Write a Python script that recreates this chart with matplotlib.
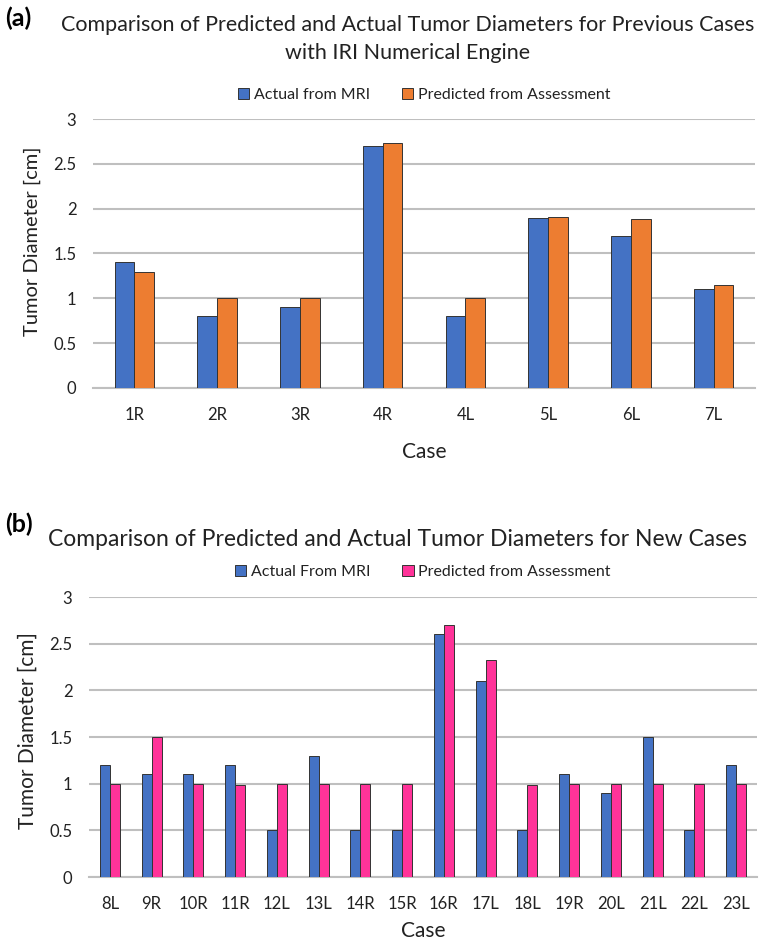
import matplotlib.pyplot as plt
import numpy as np

plt.rcParams['font.family'] = ['Lato', 'DejaVu Sans']

cases_a = ['1R', '2R', '3R', '4R', '4L', '5L', '6L', '7L']
actual_a = [1.4, 0.8, 0.9, 2.7, 0.8, 1.9, 1.7, 1.1]
pred_a = [1.29, 1.0, 1.0, 2.73, 1.0, 1.91, 1.89, 1.15]

cases_b = ['8L', '9R', '10R', '11R', '12L', '13L', '14R', '15R',
           '16R', '17L', '18L', '19R', '20L', '21L', '22L', '23L']
actual_b = [1.2, 1.1, 1.1, 1.2, 0.5, 1.3, 0.5, 0.5,
            2.6, 2.1, 0.5, 1.1, 0.9, 1.5, 0.5, 1.2]
pred_b = [1.0, 1.5, 1.0, 0.99, 1.0, 1.0, 1.0, 1.0,
          2.7, 2.33, 0.99, 1.0, 1.0, 1.0, 1.0, 1.0]

yticks = [0, 0.5, 1, 1.5, 2, 2.5, 3]
ytick_labels = ['0', '0.5', '1', '1.5', '2', '2.5', '3']

BLUE = '#4472C4'
ORANGE = '#ED7D31'
PINK = '#FF3399'
GRID = '#BFBFBF'
TXT = '#222222'

W, H = 767, 947
fig = plt.figure(figsize=(W / 100, H / 100), dpi=100)


def box(x0, y0, x1, y1):
    return [x0 / W, 1 - y1 / H, (x1 - x0) / W, (y1 - y0) / H]


def panel(ax, cases, actual, pred, c2, lab1, lab2, ylab_size, xlab_pad, ylab_xy):
    x = np.arange(len(cases))
    w = 0.24
    b1 = ax.bar(x - w / 2, actual, w, color=BLUE, edgecolor='#333333',
                linewidth=0.7, label=lab1, zorder=3)
    b2 = ax.bar(x + w / 2, pred, w, color=c2, edgecolor='#333333',
                linewidth=0.7, label=lab2, zorder=3)
    ax.set_ylim(0, 3)
    ax.set_xlim(-0.5, len(cases) - 0.5)
    ax.set_yticks(yticks)
    ax.set_yticklabels(ytick_labels)
    ax.set_xticks(x)
    ax.set_xticklabels(cases)
    ax.yaxis.grid(True, color=GRID, linewidth=1.5, zorder=0)
    ax.set_axisbelow(True)
    for s in ['top', 'right', 'left']:
        ax.spines[s].set_visible(False)
    ax.spines['bottom'].set_color(GRID)
    ax.spines['bottom'].set_linewidth(1.5)
    ax.tick_params(axis='y', length=0, labelsize=12, colors=TXT, pad=12)
    ax.tick_params(axis='x', length=0, labelsize=12, colors=TXT, pad=14)
    ax.set_ylabel('Tumor Diameter [cm]', fontsize=ylab_size, color=TXT)
    ax.yaxis.label.set_va('center')
    ax.yaxis.set_label_coords(*ylab_xy)
    ax.set_xlabel('Case', fontsize=15, color=TXT, labelpad=xlab_pad)
    return b1, b2


# panel (a)
ax1 = fig.add_axes(box(93, 119, 755, 388))
h = panel(ax1, cases_a, actual_a, pred_a, ORANGE,
          'Actual from MRI', 'Predicted from Assessment', 14.5, 13,
          ((32 - 93) / (755 - 93), (388 - 241) / (388 - 119)))
ax1.legend(h, ['Actual from MRI', 'Predicted from Assessment'],
           loc='center', bbox_to_anchor=(0.5, (388 - 95) / (388 - 119)),
           ncol=2, frameon=False, fontsize=11.5, handlelength=0.7,
           handleheight=0.7, columnspacing=2.0, handletextpad=0.3,
           labelcolor=TXT)
fig.text(408 / W, 1 - 39 / H,
         'Comparison of Predicted and Actual Tumor Diameters for Previous Cases\nwith IRI Numerical Engine',
         ha='center', va='center', fontsize=15.5, linespacing=1.45, color=TXT)
fig.text(5 / W, 1 - 18 / H, '(a)', fontsize=18, fontweight='bold', va='center')

# panel (b)
ax2 = fig.add_axes(box(89, 597, 757, 877))
h = panel(ax2, cases_b, actual_b, pred_b, PINK,
          'Actual From MRI', 'Predicted from Assessment', 15, 6,
          ((28 - 89) / (757 - 89), (877 - 731) / (877 - 597)))
ax2.legend(h, ['Actual From MRI', 'Predicted from Assessment'],
           loc='center', bbox_to_anchor=(0.5, (877 - 572) / (877 - 597)),
           ncol=2, frameon=False, fontsize=11.5, handlelength=0.7,
           handleheight=0.7, columnspacing=2.0, handletextpad=0.3,
           labelcolor=TXT)
fig.text(398 / W, 1 - 540 / H,
         'Comparison of Predicted and Actual Tumor Diameters for New Cases',
         ha='center', va='center', fontsize=16.5, color=TXT)
fig.text(5 / W, 1 - 524 / H, '(b)', fontsize=18, fontweight='bold', va='center')

fig.savefig('out.png', dpi=100)
